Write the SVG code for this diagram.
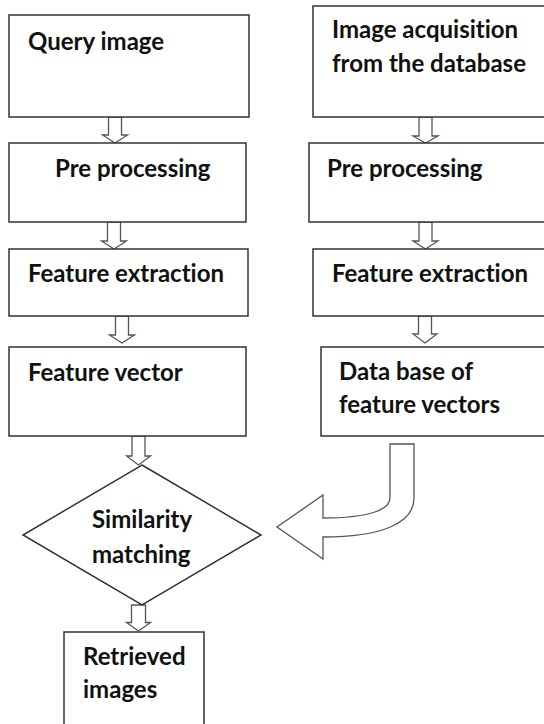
<svg xmlns="http://www.w3.org/2000/svg" width="544" height="724" viewBox="0 0 544 724">
<style>
.box{fill:#fff;stroke:#333;stroke-width:1.5}
.arr{fill:#fff;stroke:#555;stroke-width:1.3;stroke-linejoin:miter}
text{font-family:Lato,"Liberation Sans",sans-serif;font-weight:bold;font-size:24px;fill:#111;font-variant-ligatures:none}
</style>
<rect width="544" height="724" fill="#fff"/>
<g id="connectors">
<polygon class="arr" points="108.5,117 121.5,117 121.5,135 127.5,135 115,143 102.5,135 108.5,135"/>
<polygon class="arr" points="107.5,222 120.5,222 120.5,241 126.5,241 114,249 101.5,241 107.5,241"/>
<polygon class="arr" points="115.5,316 128.5,316 128.5,335 134.5,335 122,343 109.5,335 115.5,335"/>
<polygon class="arr" points="132,436 145,436 145,456 150.5,456 138.5,465 126.5,456 132,456"/>
<polygon class="arr" points="131.5,605 145.5,605 145.5,622.5 150.5,622.5 138.5,631 126.5,622.5 131.5,622.5"/>
<polygon class="arr" points="419,117 432,117 432,136 438,136 425.5,143 413,136 419,136"/>
<polygon class="arr" points="419,222 432,222 432,241 438,241 425.5,249 413,241 419,241"/>
<polygon class="arr" points="418.5,316 431.5,316 431.5,334 437,334 425,343 413,334 418.5,334"/>
<path class="arr" d="M390,444 L414,444 L414,498 C414,524 380,537 323,537 L323,559 L277,527 L323,495 L323,518 C368,518 390,510 390,498 Z"/>
</g>
<g id="query-image">
<rect class="box" x="9" y="15" width="240" height="102"/>
<text x="28" y="50">Query image</text>
</g>
<g id="pre-processing-left">
<rect class="box" x="9" y="143" width="237" height="79"/>
<text x="55" y="177">Pre processing</text>
</g>
<g id="feature-extraction-left">
<rect class="box" x="9" y="249" width="239" height="67"/>
<text x="28" y="282">Feature extraction</text>
</g>
<g id="feature-vector">
<rect class="box" x="9" y="347" width="237" height="89"/>
<text x="28" y="381">Feature vector</text>
</g>
<g id="similarity-matching">
<polygon class="box" points="142,465 261,535 142,605 23,535"/>
<text x="92" y="528">Similarity</text>
<text x="92" y="563">matching</text>
</g>
<g id="retrieved-images">
<rect class="box" x="64" y="632" width="140" height="100"/>
<text x="83" y="665">Retrieved</text>
<text x="83" y="698">images</text>
</g>
<g id="image-acquisition">
<rect class="box" x="313" y="6" width="240" height="111"/>
<text x="332" y="38">Image acquisition</text>
<text x="332" y="72">from the database</text>
</g>
<g id="pre-processing-right">
<rect class="box" x="309" y="143" width="244" height="79"/>
<text x="327" y="177">Pre processing</text>
</g>
<g id="feature-extraction-right">
<rect class="box" x="313" y="249" width="240" height="67"/>
<text x="332" y="282">Feature extraction</text>
</g>
<g id="database-feature-vectors">
<rect class="box" x="321" y="347" width="232" height="89"/>
<text x="339" y="380">Data base of</text>
<text x="339" y="413">feature vectors</text>
</g>
</svg>
